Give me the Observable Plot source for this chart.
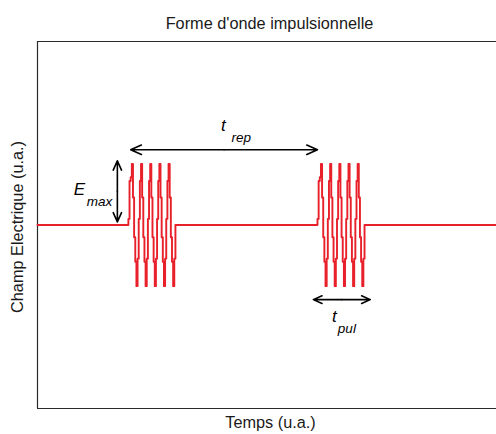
<!DOCTYPE html>
<html>
<head>
<meta charset="utf-8">
<script src="https://cdn.jsdelivr.net/npm/d3@7"></script>
<script src="https://cdn.jsdelivr.net/npm/@observablehq/plot@0.6"></script>
<style>
  html, body { margin: 0; padding: 0; background: #fff; }
</style>
</head>
<body>
<div id="chart"></div>
<script>
// ---- data ----
const titleText = "Forme d'onde impulsionnelle";
const xLabel = "Temps (u.a.)";
const yLabel = "Champ Electrique (u.a.)";

const timeDomain = [0, 100];
const fieldDomain = [-3, 3];

// start times of the two pulses and spacing of the samples inside a pulse
const pulseStarts = [19.8, 61.0];
const sampleSpacing = 0.25;

// sampled carrier inside one pulse (held between samples)
const pulseValues = [
  0.1, 0.72, 0.78, 1, 0.45, -0.2, -0.6, -1,
  -0.55, 0.1, 0.72, 1, 0.45, -0.2, -0.6, -1,
  -0.55, 0.1, 0.72, 1, 0.45, -0.2, -0.6, -1,
  -0.55, 0.1, 0.72, 1, 0.45, -0.2, -0.6, -1,
  -0.55, 0.1, 0.72, 1, 0.45, -0.2, -0.6, -1,
  -0.55, 0
];

// annotation arrows: [from, to] along one axis at a fixed other coordinate
const tRepArrow = { x1: 20.3, x2: 61.0, y: 1.23 };
const eMaxArrow = { x: 17.4, y1: 0.05, y2: 1.05 };
const tPulArrow = { x1: 60.1, x2: 72.5, y: -1.22 };

// annotation labels (main letter + subscript)
const mainLabels = [
  { x: 40.5, y: 1.63, text: "t" },
  { x: 9.15, y: 0.58, text: "E" },
  { x: 64.7, y: -1.50, text: "t" }
];
const subLabels = [
  { x: 44.4, y: 1.43, text: "rep" },
  { x: 13.5, y: 0.38, text: "max" },
  { x: 67.4, y: -1.69, text: "pul" }
];

// ---- build the waveform table ----
const wave = [{ t: timeDomain[0], v: 0 }];
for (const s of pulseStarts) {
  pulseValues.forEach((v, k) => wave.push({ t: s + k * sampleSpacing, v }));
  wave.push({ t: s + pulseValues.length * sampleSpacing, v: 0 });
}
wave.push({ t: timeDomain[1], v: 0 });

// double-headed arrows as two arrows from the middle
const arrows = [];
{
  const m = (tRepArrow.x1 + tRepArrow.x2) / 2;
  arrows.push({ x1: m, y1: tRepArrow.y, x2: tRepArrow.x1, y2: tRepArrow.y });
  arrows.push({ x1: m, y1: tRepArrow.y, x2: tRepArrow.x2, y2: tRepArrow.y });
}
{
  const m = (eMaxArrow.y1 + eMaxArrow.y2) / 2;
  arrows.push({ x1: eMaxArrow.x, y1: m, x2: eMaxArrow.x, y2: eMaxArrow.y1 });
  arrows.push({ x1: eMaxArrow.x, y1: m, x2: eMaxArrow.x, y2: eMaxArrow.y2 });
}
{
  const m = (tPulArrow.x1 + tPulArrow.x2) / 2;
  arrows.push({ x1: m, y1: tPulArrow.y, x2: tPulArrow.x1, y2: tPulArrow.y });
  arrows.push({ x1: m, y1: tPulArrow.y, x2: tPulArrow.x2, y2: tPulArrow.y });
}

const red = "#e8202a";
const ink = "#1a1a1a";

const chart = Plot.plot({
  width: 496,
  height: 434,
  marginTop: 41,
  marginBottom: 26,
  marginLeft: 37,
  marginRight: 0,
  style: { fontFamily: "'Liberation Sans', Arial, Helvetica, sans-serif", background: "#fff", color: ink },
  x: { domain: timeDomain, axis: null },
  y: { domain: fieldDomain, axis: null },
  marks: [
    // frame (top, left, bottom)
    Plot.ruleY([fieldDomain[1], fieldDomain[0]], { stroke: "#2a2a2a", strokeWidth: 1.2 }),
    Plot.ruleX([timeDomain[0]], { stroke: "#2a2a2a", strokeWidth: 1.2 }),
    // waveform
    Plot.line(wave, { x: "t", y: "v", curve: "step-after", stroke: red, strokeWidth: 1.9 }),
    // arrows
    Plot.arrow(arrows, { x1: "x1", y1: "y1", x2: "x2", y2: "y2", stroke: "#000", strokeWidth: 1.6, headLength: 11, headAngle: 48 }),
    // annotation labels
    Plot.text(mainLabels, { x: "x", y: "y", text: "text", fontSize: 17, fontStyle: "italic", fill: "#000" }),
    Plot.text(subLabels, { x: "x", y: "y", text: "text", fontSize: 13.5, fontStyle: "italic", fill: "#000" }),
    // title and axis labels
    Plot.text([titleText], { text: d => d, frameAnchor: "top", dy: -24, dx: 2.5, fontSize: 16.3, fill: ink }),
    Plot.text([xLabel], { text: d => d, frameAnchor: "bottom", dy: 19, dx: 3.5, fontSize: 16.3, fill: ink }),
    Plot.text([yLabel], { text: d => d, frameAnchor: "left", textAnchor: "middle", dx: -20, dy: 2, rotate: -90, fontSize: 16.3, fill: ink })
  ]
});

document.getElementById("chart").appendChild(chart);
</script>
</body>
</html>
